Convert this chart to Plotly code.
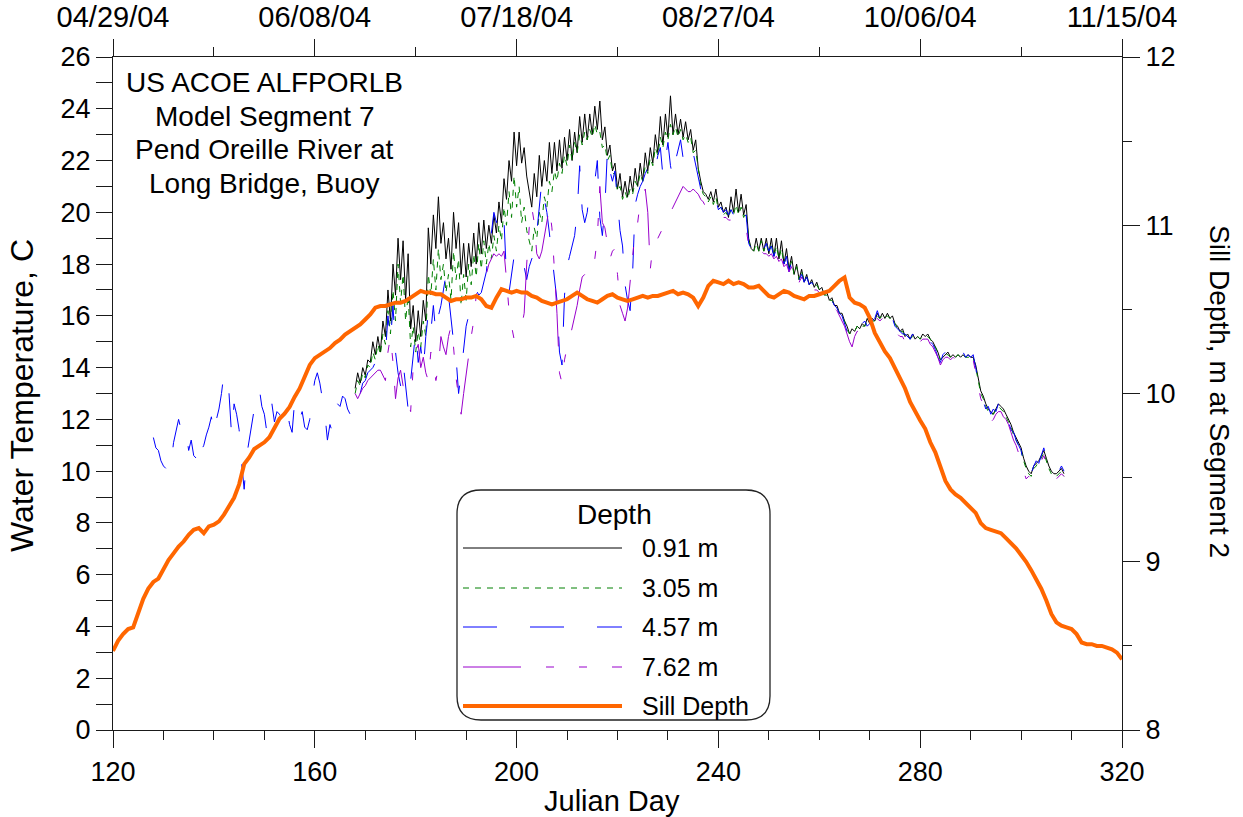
import plotly.graph_objects as go

# ---------------- data ----------------
# Water temperature (C), half-day samples
t091_start = 168.0
t091 = [
    13.2, 13.8, 13.4, 14.0, 13.7, 14.3, 14.2, 15.0, 14.5, 15.2,
    14.6, 15.8, 15.2, 17.0, 15.8, 18.0, 16.8, 19.0, 17.4, 18.9,
    16.6, 18.4, 15.5, 16.4, 15.0, 16.2, 15.2, 16.6, 15.8, 19.4,
    18.0, 19.9, 18.6, 20.6, 18.8, 19.6, 18.2, 19.0, 17.8, 20.0,
    18.6, 19.6, 17.6, 18.8, 17.5, 18.8, 17.9, 19.2, 18.0, 19.6,
    18.4, 19.7, 18.6, 19.5, 18.8, 19.9, 19.2, 20.4, 19.6, 21.3,
    20.5, 22.0, 21.2, 23.1, 21.8, 23.1, 21.9, 22.5, 21.4, 20.7,
    20.2, 21.5, 20.6, 22.2, 21.0, 22.0, 21.2, 22.7, 21.5, 22.7,
    21.6, 22.8, 21.7, 22.9, 22.0, 23.2, 22.0, 23.1, 22.3, 23.7,
    22.7, 23.8, 22.8, 23.8, 23.0, 24.1, 23.2, 24.3, 22.8, 23.3,
    22.2, 22.6, 21.6, 21.9, 20.9, 21.5, 20.6, 21.2, 20.6, 21.4,
    20.8, 21.7, 21.0, 21.9, 21.2, 22.3, 21.6, 22.5, 21.9, 23.0,
    22.3, 23.7, 22.6, 23.8, 22.9, 24.5, 23.0, 23.8, 23.0, 23.6,
    22.9, 23.5, 22.8, 23.2, 22.4, 22.8, 21.7, 21.2, 20.8, 20.7,
    20.5, 20.8, 20.4, 20.9, 20.2, 20.4, 20.0, 20.2, 19.8, 20.6,
    20.0, 20.9, 20.0, 20.7, 19.9, 20.3, 19.0, 18.6, 18.5, 19.0,
    18.5, 19.0, 18.5, 19.0, 18.4, 19.0, 18.3, 19.0, 18.2, 18.9,
    18.0, 18.6, 17.8, 18.3, 17.6, 18.0, 17.4, 17.8, 17.3, 17.6,
    17.2, 17.4, 17.1, 17.3, 17.0, 17.1, 16.8, 16.9, 16.6, 16.7,
    16.4, 16.4, 16.1, 16.1, 15.8, 15.6, 15.3, 15.5, 15.4, 15.6,
    15.5, 15.7, 15.6, 15.9, 15.7, 15.9, 15.8, 16.1, 15.9, 16.1,
    15.9, 16.1, 15.9, 16.0, 15.7, 15.6, 15.4, 15.5, 15.2, 15.3,
    15.1, 15.3, 15.1, 15.2, 15.1, 15.3, 15.2, 15.3, 15.1, 15.0,
    14.8, 14.6, 14.3, 14.4, 14.5, 14.6, 14.4, 14.5, 14.4, 14.5,
    14.4, 14.5, 14.4, 14.5, 14.4, 14.4, 14.1, 13.6, 13.1, 12.9,
    12.6, 12.4, 12.3, 12.2, 12.4, 12.6, 12.5, 12.4, 12.2, 12.0,
    11.8, 11.5, 11.3, 11.1, 10.9, 10.5, 10.2, 10.0, 9.9, 10.2,
    10.3, 10.4, 10.6, 10.8, 10.5, 10.2, 10.0, 9.9, 9.9, 10.0,
    10.1, 9.9,
]

t305_start = 168.0
t305 = [
    13.0, 13.5, 13.3, 13.8, 13.6, 14.1, 14.0, 14.6, 14.3, 14.9,
    14.5, 15.3, 14.9, 16.2, 15.3, 17.0, 15.8, 18.0, 16.5, 17.6,
    15.8, 16.8, 14.8, 15.6, 14.6, 15.4, 14.8, 15.8, 15.2, 17.6,
    16.8, 18.2, 17.0, 18.6, 17.4, 18.0, 16.9, 17.6, 16.6, 18.5,
    17.4, 18.2, 16.4, 17.6, 16.6, 18.0, 17.2, 18.4, 17.5, 18.8,
    17.8, 18.9, 18.0, 18.8, 18.2, 19.1, 18.5, 19.5, 18.9, 20.2,
    19.5, 20.8, 19.8, 21.4, 20.2, 21.0, 19.6, 20.2, 19.3, 18.9,
    18.5, 19.4, 19.0, 20.0, 19.6, 20.6, 20.2, 21.2, 20.8, 21.6,
    21.2, 21.9, 21.5, 22.2, 21.8, 22.6, 22.0, 22.7, 22.3, 23.0,
    22.6, 23.1, 22.8, 23.2, 22.9, 23.4, 23.0, 23.1, 22.5, 22.6,
    22.0, 22.2, 21.5, 21.5, 20.8, 21.0, 20.5, 20.8, 20.5, 20.9,
    20.7, 21.2, 21.0, 21.5, 21.2, 21.8, 21.5, 22.1, 21.8, 22.5,
    22.2, 22.9, 22.5, 23.1, 22.8, 23.4, 23.0, 23.3, 22.9, 23.2,
    22.8, 23.0, 22.7, 22.9, 22.3, 22.4, 21.6, 21.0, 20.7, 20.6,
    20.4, 20.6, 20.3, 20.6, 20.1, 20.2, 19.9, 20.0, 19.8, 20.1,
    19.9, 20.3, 19.9, 20.2, 19.8, 20.0, 18.9, 18.6, 18.5, 18.8,
    18.5, 18.9, 18.5, 18.8, 18.4, 18.8, 18.3, 18.7, 18.2, 18.6,
    18.0, 18.3, 17.8, 18.1, 17.6, 17.9, 17.4, 17.7, 17.3, 17.5,
    17.2, 17.3, 17.1, 17.2, 17.0, 17.0, 16.8, 16.8, 16.6, 16.6,
    16.4, 16.3, 16.1, 16.0, 15.8, 15.5, 15.3, 15.4, 15.4, 15.6,
    15.5, 15.6, 15.6, 15.8, 15.7, 15.8, 15.8, 16.0, 15.9, 16.0,
    15.9, 16.0, 15.9, 15.9, 15.7, 15.5, 15.4, 15.4, 15.2, 15.2,
    15.1, 15.2, 15.1, 15.2, 15.1, 15.2, 15.2, 15.2, 15.1, 14.9,
    14.8, 14.6, 14.3, 14.4, 14.5, 14.5, 14.4, 14.5, 14.4, 14.5,
    14.4, 14.5, 14.4, 14.4, 14.4, 14.4, 14.0, 13.5, 13.0, 12.8,
    12.5, 12.3, 12.2, 12.2, 12.4, 12.5, 12.4, 12.3, 12.1, 11.9,
    11.7, 11.4, 11.2, 11.0, 10.8, 10.4, 10.1, 9.9, 9.8, 10.1,
    10.2, 10.4, 10.5, 10.7, 10.4, 10.1, 9.9, 9.8, 9.8, 9.9,
    10.0, 9.8,
]

t457_start = 128.0
t457 = [
    11.3, 10.9, 10.8, 10.4, 10.2, 10.1, 10.5, 10.3, 11.1, 11.5,
    12.0, 11.6, 11.3, 11.5, 10.8, 11.2, 10.6, 10.5, 11.2, 10.8,
    11.0, 11.4, 11.7, 12.1, 11.4, 12.0, 12.4, 13.0, 13.8, 13.6,
    13.0, 11.4, 12.6, 12.2, 11.6, 10.3, 9.3, 10.6, 11.2, 11.9,
    12.4, 13.0, 13.2, 12.5, 12.2, 11.5, 12.0, 12.6, 11.9, 12.3,
    12.2, 11.9, 12.1, 12.4, 11.8, 11.5, 12.7, 12.3, 12.0, 12.3,
    11.7, 11.6, 12.0, 12.9, 13.5, 13.8, 13.4, 12.8, 12.2, 11.2,
    11.8, 11.5, 12.0, 12.6, 12.5, 12.9, 12.8, 12.4, 12.2, 12.6,
    12.9, 13.2, 13.0, 13.4, 13.5, 13.8, 13.9, 14.0, 14.2, 14.3,
    14.4, 14.6, 14.5, 16.0, 15.0, 16.4, 14.6, 13.8, 13.3, 14.2,
    13.2, 12.4, 13.5, 14.6, 15.4, 14.2, 14.8, 13.9, 15.2, 16.1,
    15.4, 16.4, 15.3, 16.0, 16.4, 17.0, 17.6, 16.8, 15.8, 15.0,
    14.4, 13.0, 13.8, 14.8, 15.6, 16.0, 16.4, 16.8, 17.0, 16.8,
    16.9, 17.3, 17.7, 18.6, 19.2, 20.0, 19.6, 20.1, 20.2, 19.7,
    17.5, 16.9, 17.6, 18.3, 17.9, 18.1, 17.8, 17.9, 17.4, 17.9,
    18.2, 18.4, 19.2, 20.2, 21.2, 20.5, 20.0, 19.2, 18.4, 17.6,
    16.6, 14.6, 14.1, 16.8, 17.9, 18.3, 18.7, 19.1, 20.0, 21.8,
    20.1, 19.6, 20.0, 20.9, 21.0, 21.2, 22.0, 19.8, 19.1, 20.2,
    22.4, 21.6, 21.2, 21.6, 20.4, 19.3, 18.7, 17.2, 16.6, 16.2,
    17.7, 20.3, 20.7, 21.0, 21.2, 21.5, 21.7, 21.5, 21.9, 21.7,
    22.2, 22.5, 21.4, 22.0, 22.7, 21.8, 21.3, 22.0, 22.4, 22.8,
    22.1, 22.0, 22.5, 22.6, 22.3, 21.8, 21.4, 20.9, 20.7, 20.6,
    20.5, 20.5, 20.3, 20.5, 20.1, 20.2, 20.0, 20.1, 19.9, 20.1,
    19.9, 20.2, 19.9, 20.1, 19.8, 19.9, 18.8, 18.6, 18.6, 18.8,
    18.6, 18.9, 18.6, 18.8, 18.5, 18.7, 18.3, 18.6, 18.2, 18.5,
    18.0, 18.3, 17.7, 18.1, 17.6, 17.8, 17.4, 17.6, 17.3, 17.5,
    17.2, 17.3, 17.1, 17.2, 17.0, 17.0, 16.8, 16.8, 16.6, 16.6,
    16.4, 16.3, 16.1, 16.0, 15.7, 15.4, 15.1, 15.3, 15.5, 15.6,
    15.5, 15.7, 15.8, 15.6, 15.7, 15.8, 15.9, 16.2, 15.9, 16.1,
    16.2, 15.9, 16.1, 15.9, 15.6, 15.5, 15.4, 15.3, 15.3, 15.2,
    15.1, 15.3, 15.1, 15.3, 15.2, 15.1, 15.3, 15.2, 15.0, 14.9,
    14.7, 14.4, 14.2, 14.5, 14.6, 14.4, 14.5, 14.6, 14.4, 14.5,
    14.4, 14.6, 14.4, 14.5, 14.4, 14.5, 14.0, 13.4, 13.0, 12.7,
    12.4, 12.5, 12.2, 12.4, 12.3, 12.6, 12.8, 12.4, 12.2, 11.9,
    11.6, 11.5, 11.2, 11.0, 10.8, 10.3, 10.0, 10.2, 9.9, 10.2,
    10.4, 10.3, 10.6, 10.9, 10.5, 10.2, 10.0, 9.9, 9.9, 10.0,
    10.2, 10.0,
]

t762_start = 168.0
t762 = [
    13.0, 12.8, 13.0, 13.2, 13.3, 13.5, 13.6, 13.7, 13.8, 13.9,
    13.9, 13.7, 13.5, 14.6, 15.2, 14.2, 12.8, 13.6, 13.9, 13.3,
    12.9, 12.7, 12.3, 14.0, 14.6, 14.9, 14.0, 14.4, 13.8, 13.5,
    14.6, 14.2, 13.5, 14.0, 15.2, 14.8, 14.5, 15.2, 15.6, 14.8,
    13.6, 12.9, 12.2, 13.0, 13.8, 14.6, 15.2, 15.8, 16.8, 17.2,
    17.2, 17.4, 17.6, 18.0, 18.2, 18.4, 18.3, 18.4, 18.3, 18.5,
    17.4, 16.2, 15.6, 15.1, 15.3, 15.5, 15.6, 16.1, 18.0, 19.4,
    20.2, 19.6, 18.4, 18.2, 18.5, 19.1, 19.6, 20.2, 19.4, 17.9,
    16.1, 13.8, 13.4, 14.3, 14.8, 15.1, 15.5, 15.9, 16.4, 17.0,
    17.5, 17.6, 17.5, 17.7, 17.7, 18.2, 19.0, 21.0, 19.6, 19.4,
    18.7, 18.2, 18.5, 18.6, 17.6, 16.4, 16.1, 15.8, 16.3, 17.4,
    18.2, 19.3, 19.6, 20.4, 20.6, 20.9, 20.0, 17.8, 18.7, 18.7,
    19.0, 19.2, 19.4, 19.6, 19.9, 20.0, 20.2, 20.4, 20.6, 20.8,
    21.0, 20.9, 20.8, 20.8, 20.9, 20.8, 20.7, 20.5, 20.4, 20.2,
    20.2, 20.1, 20.0, 19.9, 19.9, 19.8, 19.8, 19.8, 19.7, 19.7,
    19.7, 19.7, 19.7, 19.6, 19.6, 19.4, 18.7, 18.5, 18.4, 18.4,
    18.4, 18.5, 18.4, 18.4, 18.3, 18.4, 18.2, 18.3, 18.1, 18.2,
    17.9, 18.0, 17.7, 17.9, 17.5, 17.7, 17.3, 17.5, 17.2, 17.3,
    17.1, 17.2, 17.0, 17.0, 16.9, 16.9, 16.7, 16.7, 16.5, 16.5,
    16.3, 16.2, 16.0, 15.8, 15.6, 15.3, 15.0, 14.8, 15.2, 15.4,
    15.4, 15.5, 15.5, 15.6, 15.6, 15.7, 15.7, 15.9, 15.8, 15.9,
    15.8, 15.8, 15.8, 15.7, 15.5, 15.3, 15.2, 15.2, 15.0, 15.1,
    15.0, 15.1, 15.0, 15.1, 15.0, 15.1, 15.1, 15.1, 14.9, 14.8,
    14.6, 14.4, 14.1, 14.3, 14.4, 14.4, 14.3, 14.4, 14.3, 14.4,
    14.3, 14.4, 14.3, 14.3, 14.3, 14.3, 13.8, 13.3, 12.8, 12.6,
    12.3, 12.0, 11.9, 12.0, 12.2, 12.3, 12.3, 12.1, 12.0, 11.8,
    11.5, 11.2, 11.0, 10.7, 10.5, 10.0, 9.7, 9.8, 9.7, 10.0,
    10.1, 10.3, 10.4, 10.6, 10.3, 10.0, 9.8, 9.7, 9.7, 9.8,
    9.9, 9.8,
]

# Sill depth (m at Segment 2), daily
sill_start = 120.0
sill = [
    8.47, 8.53, 8.57, 8.60, 8.61, 8.70, 8.78, 8.84, 8.88, 8.90,
    8.96, 9.01, 9.05, 9.09, 9.12, 9.16, 9.19, 9.20, 9.17, 9.21,
    9.22, 9.24, 9.28, 9.33, 9.38, 9.46, 9.58, 9.62, 9.67, 9.69,
    9.71, 9.74, 9.80, 9.85, 9.88, 9.92, 9.98, 10.03, 10.10, 10.17,
    10.21, 10.23, 10.25, 10.27, 10.30, 10.32, 10.35, 10.37, 10.39, 10.41,
    10.44, 10.47, 10.51, 10.52, 10.52, 10.53, 10.54, 10.54, 10.55, 10.57,
    10.59, 10.61, 10.60, 10.60, 10.59, 10.59, 10.57, 10.55, 10.56, 10.56,
    10.57, 10.57, 10.58, 10.56, 10.52, 10.51, 10.57, 10.62, 10.61, 10.60,
    10.61, 10.60, 10.60, 10.58, 10.57, 10.55, 10.54, 10.53, 10.54, 10.55,
    10.56, 10.58, 10.60, 10.58, 10.56, 10.55, 10.54, 10.56, 10.58, 10.59,
    10.57, 10.56, 10.55, 10.56, 10.57, 10.58, 10.57, 10.58, 10.58, 10.59,
    10.60, 10.61, 10.59, 10.60, 10.59, 10.57, 10.52, 10.57, 10.64, 10.67,
    10.66, 10.65, 10.67, 10.65, 10.66, 10.65, 10.63, 10.63, 10.64, 10.61,
    10.58, 10.57, 10.59, 10.61, 10.60, 10.58, 10.57, 10.56, 10.58, 10.58,
    10.59, 10.60, 10.61, 10.64, 10.67, 10.69, 10.57, 10.54, 10.53, 10.51,
    10.45, 10.36, 10.30, 10.25, 10.21, 10.15, 10.09, 10.03, 9.95, 9.89,
    9.84, 9.79, 9.71, 9.65, 9.57, 9.48, 9.43, 9.40, 9.38, 9.35,
    9.32, 9.29, 9.23, 9.20, 9.19, 9.18, 9.17, 9.14, 9.11, 9.08,
    9.04, 9.00, 8.95, 8.90, 8.84, 8.77, 8.69, 8.64, 8.62, 8.61,
    8.60, 8.57, 8.52, 8.51, 8.51, 8.50, 8.50, 8.49, 8.48, 8.46,
    8.42,
]

x_ticks = [120, 160, 200, 240, 280, 320]
date_labels = ["04/29/04", "06/08/04", "07/18/04", "08/27/04", "10/06/04", "11/15/04"]
series_names = ["0.91 m", "3.05 m", "4.57 m", "7.62 m", "Sill Depth"]
title_lines = ["US ACOE ALFPORLB", "Model Segment 7", "Pend Oreille River at", "Long Bridge, Buoy"]


def grid(start, n, step):
    return [start + step * i for i in range(n)]


# ---------------- styles ----------------
FONT = "Liberation Sans, Arial, sans-serif"
AX = "#1a1a1a"
FS = 27
styles = [
    dict(color="#000000", width=1, dash="solid"),
    dict(color="#008000", width=1, dash="6px,6px"),
    dict(color="#0000FF", width=1, dash="34px,33px"),
    dict(color="#9900CC", width=1, dash="58px,25px,8px,25px,8px,25px"),
    dict(color="#FF6600", width=4, dash="solid"),
]

fig = go.Figure()
temp_sets = [(t091_start, t091), (t305_start, t305), (t457_start, t457), (t762_start, t762)]
for (st, vals), sty, nm in zip(temp_sets, styles[:4], series_names[:4]):
    fig.add_trace(go.Scatter(x=grid(st, len(vals), 0.5), y=vals, mode="lines", name=nm,
                             line=sty, showlegend=False))
fig.add_trace(go.Scatter(x=grid(sill_start, len(sill), 1.0), y=sill, mode="lines",
                         name=series_names[4], line=styles[4], yaxis="y2", showlegend=False))

L, R, T, B = 113, 1122, 57, 730
W, H = 1243, 817


def px(xp):
    return (xp - L) / (R - L)


def py(yp):
    return (B - yp) / (B - T)


def axis_common(size=FS):
    return dict(showline=True, linecolor=AX, linewidth=1.3, ticks="outside", automargin=False,
                tickcolor=AX, tickwidth=1.3, showgrid=False, zeroline=False,
                tickfont=dict(size=size, family=FONT, color="black"))


def minor(dt, t0, ln):
    return dict(dtick=dt, tick0=t0, ticklen=ln, ticks="outside", tickcolor=AX, tickwidth=1.3, showgrid=False)


fig.update_layout(
    width=W, height=H,
    margin=dict(l=L, r=W - R, t=T, b=H - B, pad=0, autoexpand=False),
    paper_bgcolor="white", plot_bgcolor="white",
    font=dict(family=FONT, color="black", size=FS),
    showlegend=False,
    xaxis=dict(range=[120, 320], tickmode="array", tickvals=x_ticks, ticklen=17,
               minor=minor(10, 120, 9), **axis_common()),
    xaxis2=dict(range=[120, 320], overlaying="x", side="top", anchor="y", tickmode="array",
                tickvals=x_ticks, ticktext=date_labels, ticklen=17,
                minor=minor(20, 120, 9), **axis_common(29)),
    yaxis=dict(range=[0, 26], dtick=2, tick0=0, ticklen=16,
               minor=minor(1, 0, 16), **axis_common()),
    yaxis2=dict(range=[8, 12], dtick=1, tick0=8, overlaying="y", side="right", anchor="x", ticklen=17,
                minor=minor(0.5, 8, 9), **axis_common()),
)

# invisible trace to activate top axis
fig.add_trace(go.Scatter(x=[120, 320], y=[None, None], xaxis="x2", mode="lines", showlegend=False, hoverinfo="skip"))

ann = []
# title block
for i, line in enumerate(title_lines):
    ann.append(dict(x=px(264), y=py(83 + i * 33.5), xref="paper", yref="paper", text=line,
                    showarrow=False, xanchor="center", yanchor="middle", font=dict(size=28)))
# axis titles
ann.append(dict(x=px(612), y=py(801), xref="paper", yref="paper", text="Julian Day",
                showarrow=False, xanchor="center", yanchor="middle", font=dict(size=29)))
ann.append(dict(x=px(22), y=py(396), xref="paper", yref="paper", text="Water Temperature, C",
                showarrow=False, textangle=-90, xanchor="center", yanchor="middle", font=dict(size=32)))
ann.append(dict(x=px(1220), y=py(391), xref="paper", yref="paper", text="Sill Depth, m at Segment 2",
                showarrow=False, textangle=90, xanchor="center", yanchor="middle", font=dict(size=28)))

# legend box (rounded)
bx0, bx1, by0, by1, r = 457, 770, 490, 720, 24


def P(xp, yp):
    return f"{px(xp):.5f},{py(yp):.5f}"


path = (f"M {P(bx0 + r, by0)} L {P(bx1 - r, by0)} Q {P(bx1, by0)} {P(bx1, by0 + r)} "
        f"L {P(bx1, by1 - r)} Q {P(bx1, by1)} {P(bx1 - r, by1)} L {P(bx0 + r, by1)} "
        f"Q {P(bx0, by1)} {P(bx0, by1 - r)} L {P(bx0, by0 + r)} Q {P(bx0, by0)} {P(bx0 + r, by0)} Z")
shapes = [dict(type="path", path=path, xref="paper", yref="paper", fillcolor="white",
               line=dict(color="#222222", width=1.3), layer="above")]
ann.append(dict(x=px(614), y=py(514), xref="paper", yref="paper", text="Depth", showarrow=False,
                xanchor="center", yanchor="middle", font=dict(size=28)))
rows = [548, 588, 627, 667, 706]
for yrow, sty, nm in zip(rows, styles, series_names):
    shapes.append(dict(type="line", xref="paper", yref="paper", x0=px(463), x1=px(622),
                       y0=py(yrow), y1=py(yrow), layer="above",
                       line=dict(color=sty["color"], width=sty["width"], dash=sty["dash"])))
    ann.append(dict(x=px(640), y=py(yrow), xref="paper", yref="paper", text=nm, showarrow=False,
                    xanchor="left", yanchor="middle", font=dict(size=25)))

fig.update_layout(annotations=ann, shapes=shapes)
fig.write_html("out.html")
